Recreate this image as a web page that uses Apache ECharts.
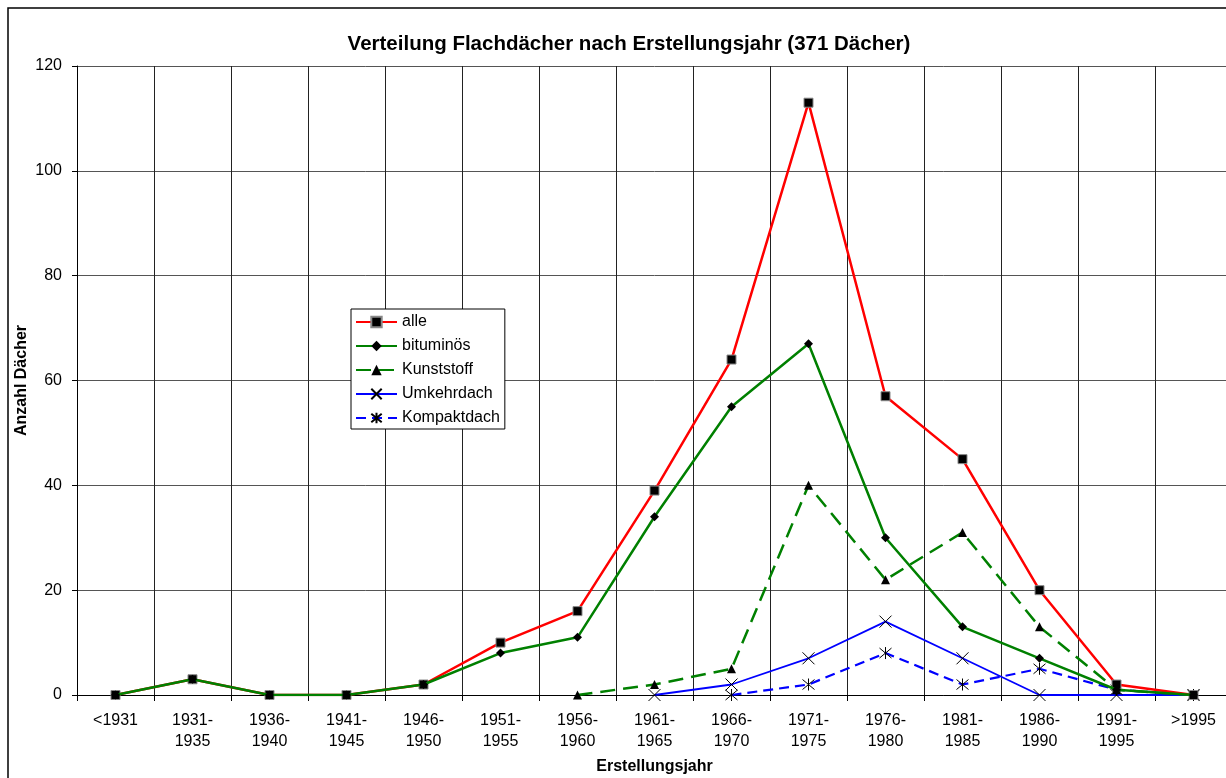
<!DOCTYPE html>
<html>
<head>
<meta charset="utf-8">
<title>Verteilung Flachdächer</title>
<script src="https://cdn.jsdelivr.net/npm/echarts@6/dist/echarts.min.js"></script>
<style>
  html, body { margin: 0; padding: 0; background: #fff; overflow: hidden; }
  #chart { width: 1240px; height: 778px; }
</style>
</head>
<body>
<div id="chart"></div>
<script>
// Kategorien (Erstellungsjahr)
const categories = ['<1931', '1931-\n1935', '1936-\n1940', '1941-\n1945', '1946-\n1950', '1951-\n1955',
  '1956-\n1960', '1961-\n1965', '1966-\n1970', '1971-\n1975', '1976-\n1980', '1981-\n1985',
  '1986-\n1990', '1991-\n1995', '>1995'];

// Anzahl Dächer je Kategorie
const alle        = [0, 3, 0, 0, 2, 10, 16, 39, 64, 113, 57, 45, 20, 2, 0];
const bituminoes  = [0, 3, 0, 0, 2, 8, 11, 34, 55, 67, 30, 13, 7, 1, 0];
const kunststoff  = [null, null, null, null, null, null, 0, 2, 5, 40, 22, 31, 13, 1, 0];
const umkehrdach  = [null, null, null, null, null, null, null, 0, 2, 7, 14, 7, 0, 0, 0];
const kompaktdach = [null, null, null, null, null, null, null, null, 0, 2, 8, 2, 5, 1, 0];

const yTicks = { min: 0, max: 120, step: 20 };

const FONT = 'Arial, "Liberation Sans", sans-serif';
const crossSym = 'path://M0,0L10,10M10,0L0,10';
const starSym = 'path://M0,0L10,10M10,0L0,10M5,-1L5,11';

let myChart = echarts.init(document.getElementById('chart'));
let option = {
  backgroundColor: '#fff',
  animation: false,
  textStyle: { fontFamily: FONT, color: '#000' },
  graphic: [{
    type: 'rect',
    shape: { x: 8, y: 8, width: 1300, height: 900 },
    style: { fill: 'none', stroke: '#000', lineWidth: 1.5 },
    z: -10
  }],
  title: {
    text: 'Verteilung Flachdächer nach Erstellungsjahr (371 Dächer)',
    left: 624,
    top: 29,
    textAlign: 'center',
    textStyle: { fontFamily: FONT, fontSize: 20.5, fontWeight: 'bold', color: '#000' }
  },
  legend: {
    orient: 'vertical',
    left: 351,
    top: 309,
    padding: [5, 5, 3, 4],
    itemGap: 8,
    itemWidth: 41,
    itemHeight: 13,
    backgroundColor: '#fff',
    borderColor: '#000',
    borderWidth: 1,
    borderRadius: 0,
    textStyle: { fontFamily: FONT, fontSize: 16, lineHeight: 16, color: '#000' },
    data: ['alle', 'bituminös', 'Kunststoff', 'Umkehrdach', 'Kompaktdach']
  },
  grid: { left: 77, top: 66, width: 1155, height: 629, containLabel: false, outerBoundsMode: 'none' },
  xAxis: {
    type: 'category',
    data: categories,
    boundaryGap: true,
    name: 'Erstellungsjahr',
    nameLocation: 'middle',
    nameGap: 64,
    nameMoveOverlap: false,
    nameTextStyle: { fontFamily: FONT, fontSize: 16, fontWeight: 'bold', color: '#000' },
    axisLine: { lineStyle: { color: '#000', width: 1 } },
    axisTick: { show: true, length: 6, lineStyle: { color: '#000' } },
    axisLabel: { interval: 0, fontFamily: FONT, fontSize: 16, color: '#000', margin: 15, lineHeight: 21 },
    splitLine: { show: true, interval: 0, lineStyle: { color: '#222', width: 1 } }
  },
  yAxis: {
    type: 'value',
    min: yTicks.min,
    max: yTicks.max,
    interval: yTicks.step,
    name: 'Anzahl Dächer',
    nameLocation: 'middle',
    nameRotate: 90,
    nameGap: 47,
    nameMoveOverlap: false,
    nameTextStyle: { fontFamily: FONT, fontSize: 16, fontWeight: 'bold', color: '#000' },
    axisLine: { show: true, lineStyle: { color: '#000', width: 1 } },
    axisTick: { show: true, length: 5, lineStyle: { color: '#000' } },
    axisLabel: { fontFamily: FONT, fontSize: 16, color: '#000', margin: 15 },
    splitLine: { show: true, lineStyle: { color: '#555', width: 1 } }
  },
  series: [{
    name: 'alle',
    type: 'line',
    data: alle,
    symbol: 'rect',
    symbolSize: 9,
    itemStyle: { color: '#000', borderColor: '#888', borderWidth: 1 },
    lineStyle: { color: '#ff0000', width: 2.5 },
    z: 5
  }, {
    name: 'bituminös',
    type: 'line',
    data: bituminoes,
    symbol: 'diamond',
    symbolSize: 9,
    itemStyle: { color: '#000' },
    lineStyle: { color: '#008000', width: 2.5 },
    z: 6
  }, {
    name: 'Kunststoff',
    type: 'line',
    data: kunststoff,
    symbol: 'triangle',
    symbolSize: 9,
    itemStyle: { color: '#000' },
    lineStyle: { color: '#008000', width: 2.5, type: [15, 8] },
    z: 4
  }, {
    name: 'Umkehrdach',
    type: 'line',
    data: umkehrdach,
    symbol: crossSym,
    symbolSize: 12,
    itemStyle: { color: '#000', borderColor: '#000', borderWidth: 1 },
    lineStyle: { color: '#0000ff', width: 1.8 },
    z: 3
  }, {
    name: 'Kompaktdach',
    type: 'line',
    data: kompaktdach,
    symbol: starSym,
    symbolSize: 12,
    itemStyle: { color: '#000', borderColor: '#000', borderWidth: 1 },
    lineStyle: { color: '#0000ff', width: 2.2, type: [10, 6] },
    z: 3
  }]
};
myChart.setOption(option);
</script>
</body>
</html>
